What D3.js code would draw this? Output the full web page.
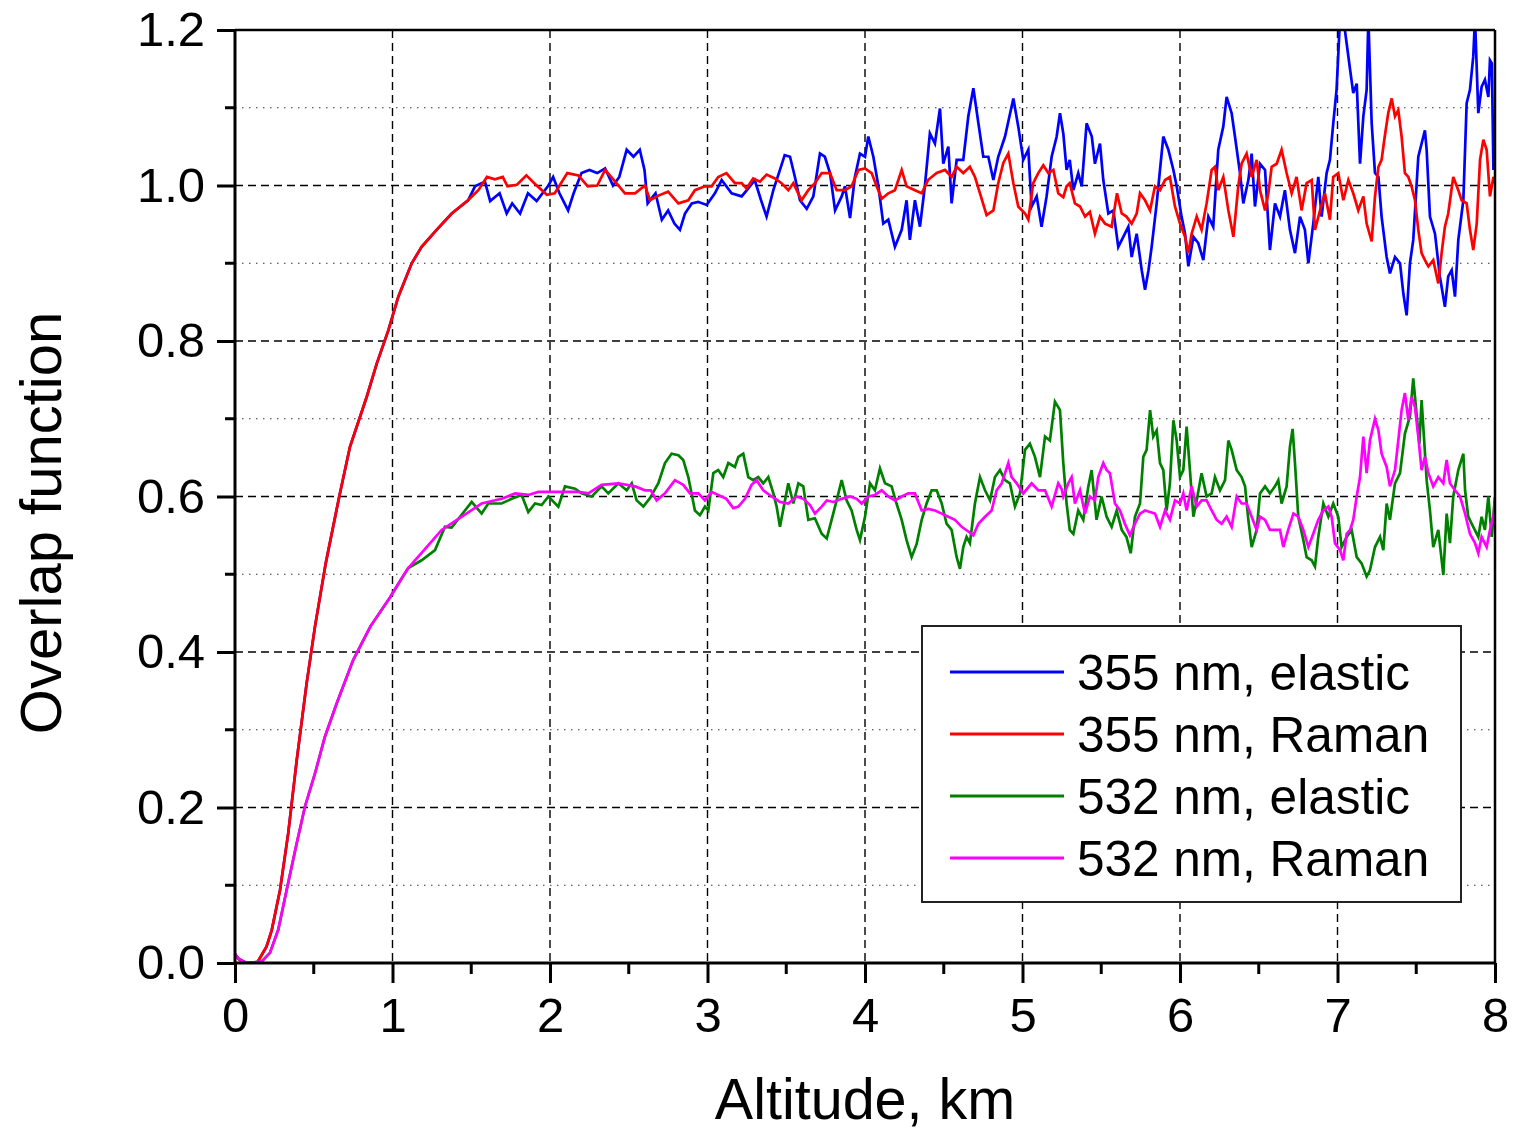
<!DOCTYPE html>
<html>
<head>
<meta charset="utf-8">
<script src="https://cdn.jsdelivr.net/npm/d3@7"></script>
<style>
  html, body { margin: 0; padding: 0; background: #fff; }
  text { font-family: "Liberation Sans", Arial, sans-serif; fill: #000; }
</style>
</head>
<body>
<svg id="chart" width="1515" height="1133"></svg>
<script>
// Altitude (km) / overlap-function pairs.
// Both 355 nm channels share the near-range rise, as do both 532 nm channels.
const rise355 = [
  [0.00, 0.010], [0.03, 0.004], [0.07, 0.000], [0.14, 0.000], [0.20, 0.021], [0.233, 0.042],
  [0.286, 0.094], [0.338, 0.167], [0.392, 0.261], [0.455, 0.360], [0.508, 0.433],
  [0.576, 0.514], [0.662, 0.600], [0.73, 0.664], [0.836, 0.728], [0.90, 0.771],
  [0.974, 0.814], [1.037, 0.857], [1.122, 0.900], [1.185, 0.921], [1.28, 0.943],
  [1.376, 0.964], [1.48, 0.981]
];
const elastic355Tail = [
  [1.524, 0.999], [1.587, 1.005], [1.62, 0.980], [1.68, 0.990], [1.725, 0.964], [1.76, 0.977],
  [1.81, 0.964], [1.86, 0.990], [1.915, 0.980], [1.99, 1.000], [2.02, 1.011], [2.06, 0.990],
  [2.115, 0.968], [2.15, 0.990], [2.20, 1.016], [2.25, 1.020], [2.30, 1.016], [2.35, 1.022],
  [2.40, 1.000], [2.44, 1.011], [2.487, 1.046], [2.53, 1.037], [2.57, 1.046], [2.60, 1.020],
  [2.62, 0.977], [2.67, 0.990], [2.71, 0.956], [2.75, 0.968], [2.79, 0.951], [2.825, 0.943],
  [2.857, 0.964], [2.90, 0.977], [2.94, 0.979], [2.995, 0.975], [3.047, 0.990], [3.09, 1.007],
  [3.153, 0.990], [3.217, 0.986], [3.25, 0.994], [3.30, 1.007], [3.34, 0.981], [3.375, 0.960],
  [3.418, 0.994], [3.46, 1.020], [3.49, 1.039], [3.524, 1.037], [3.555, 1.011], [3.587, 0.981],
  [3.63, 0.970], [3.672, 0.986], [3.714, 1.041], [3.745, 1.037], [3.778, 1.016], [3.81, 0.968],
  [3.852, 0.986], [3.873, 0.999], [3.905, 0.958], [3.936, 1.011], [3.968, 1.041], [4.00, 1.037],
  [4.021, 1.063], [4.053, 1.037], [4.085, 0.999], [4.116, 0.951], [4.148, 0.956], [4.19, 0.921],
  [4.233, 0.943], [4.264, 0.981], [4.285, 0.930], [4.317, 0.981], [4.349, 0.947], [4.38, 0.999],
  [4.412, 1.067], [4.444, 1.054], [4.476, 1.099], [4.497, 1.028], [4.529, 1.050], [4.55, 0.977],
  [4.582, 1.033], [4.624, 1.033], [4.656, 1.089], [4.688, 1.125], [4.72, 1.080], [4.751, 1.037],
  [4.783, 1.037], [4.815, 1.007], [4.846, 1.037], [4.889, 1.063], [4.942, 1.112], [4.973, 1.076],
  [5.005, 1.033], [5.037, 1.046], [5.058, 0.973], [5.09, 0.986], [5.121, 0.947], [5.153, 0.986],
  [5.185, 1.037], [5.217, 1.063], [5.238, 1.093], [5.259, 1.067], [5.28, 1.020], [5.30, 1.033],
  [5.323, 0.994], [5.354, 1.016], [5.376, 0.999], [5.407, 1.080], [5.44, 1.063], [5.46, 1.028],
  [5.492, 1.054], [5.513, 1.007], [5.545, 0.964], [5.577, 0.968], [5.608, 0.921], [5.64, 0.934],
  [5.672, 0.947], [5.693, 0.908], [5.725, 0.938], [5.757, 0.891], [5.778, 0.866], [5.80, 0.891],
  [5.82, 0.921], [5.852, 0.977], [5.873, 1.020], [5.894, 1.063], [5.926, 1.046], [5.958, 1.020],
  [5.979, 0.999], [6.01, 0.960], [6.032, 0.938], [6.053, 0.896], [6.085, 0.934], [6.116, 0.926],
  [6.148, 0.904], [6.18, 0.960], [6.211, 0.947], [6.243, 1.046], [6.275, 1.076], [6.296, 1.114],
  [6.328, 1.093], [6.349, 1.063], [6.381, 1.016], [6.402, 0.977], [6.434, 1.007], [6.455, 1.041],
  [6.476, 0.973], [6.508, 1.028], [6.54, 1.020], [6.571, 0.917], [6.603, 0.977], [6.635, 0.960],
  [6.666, 0.994], [6.698, 0.943], [6.73, 0.913], [6.762, 0.960], [6.793, 0.943], [6.815, 0.900],
  [6.846, 0.951], [6.878, 1.011], [6.899, 0.960], [6.931, 1.016], [6.952, 1.033], [6.973, 1.080],
  [6.994, 1.123], [7.016, 1.215], [7.037, 1.215], [7.058, 1.183], [7.08, 1.149], [7.10, 1.119],
  [7.122, 1.131], [7.143, 1.028], [7.164, 1.089], [7.185, 1.123], [7.196, 1.215], [7.217, 1.080],
  [7.238, 1.016], [7.26, 1.011], [7.28, 0.960], [7.312, 0.908], [7.333, 0.887], [7.365, 0.908],
  [7.397, 0.900], [7.418, 0.861], [7.439, 0.833], [7.46, 0.900], [7.481, 0.930], [7.513, 1.037],
  [7.534, 1.054], [7.555, 1.071], [7.566, 1.046], [7.587, 0.960], [7.619, 0.938], [7.65, 0.883],
  [7.682, 0.844], [7.703, 0.883], [7.725, 0.891], [7.746, 0.857], [7.767, 0.930], [7.799, 0.981],
  [7.82, 1.106], [7.841, 1.123], [7.862, 1.166], [7.873, 1.215], [7.894, 1.093], [7.915, 1.127],
  [7.936, 1.136], [7.958, 1.114], [7.968, 1.161], [7.98, 1.157], [7.99, 1.020], [8.00, 1.084]
];
const raman355Tail = [
  [1.545, 0.994], [1.60, 1.011], [1.65, 1.008], [1.70, 1.011], [1.73, 0.999], [1.79, 1.001],
  [1.85, 1.013], [1.905, 1.002], [1.98, 0.988], [2.03, 0.990], [2.11, 1.016], [2.18, 1.013],
  [2.24, 0.999], [2.30, 1.000], [2.35, 1.020], [2.41, 1.006], [2.476, 0.990], [2.54, 0.990],
  [2.603, 1.000], [2.635, 0.981], [2.688, 0.987], [2.75, 0.992], [2.815, 0.977], [2.878, 0.981],
  [2.92, 0.994], [2.984, 0.999], [3.026, 0.999], [3.068, 1.011], [3.12, 1.016], [3.174, 1.003],
  [3.217, 1.003], [3.248, 0.996], [3.29, 1.009], [3.333, 1.005], [3.375, 1.014], [3.428, 1.009],
  [3.47, 1.003], [3.513, 0.994], [3.545, 1.003], [3.597, 0.981], [3.64, 0.994], [3.682, 1.003],
  [3.725, 1.016], [3.778, 1.016], [3.82, 0.994], [3.873, 0.994], [3.915, 0.999], [3.958, 1.020],
  [4.00, 1.022], [4.042, 1.016], [4.074, 0.999], [4.106, 0.983], [4.148, 0.990], [4.19, 0.994],
  [4.233, 1.020], [4.264, 0.999], [4.317, 0.994], [4.36, 0.990], [4.40, 1.007], [4.455, 1.016],
  [4.508, 1.020], [4.55, 1.011], [4.582, 1.024], [4.624, 1.016], [4.666, 1.024], [4.698, 1.011],
  [4.73, 0.990], [4.772, 0.962], [4.815, 0.968], [4.846, 1.003], [4.878, 1.029], [4.91, 1.041],
  [4.942, 1.003], [4.973, 0.973], [5.016, 0.964], [5.037, 0.956], [5.068, 1.003], [5.10, 1.016],
  [5.132, 1.026], [5.164, 1.016], [5.196, 1.020], [5.227, 0.990], [5.259, 0.985], [5.28, 0.999],
  [5.30, 1.003], [5.333, 0.977], [5.365, 0.973], [5.397, 0.960], [5.428, 0.966], [5.46, 0.938],
  [5.492, 0.960], [5.524, 0.951], [5.566, 0.947], [5.60, 0.990], [5.63, 0.964], [5.66, 0.960],
  [5.693, 0.951], [5.725, 0.964], [5.746, 0.990], [5.778, 0.981], [5.81, 0.968], [5.841, 0.999],
  [5.873, 0.994], [5.905, 1.007], [5.936, 1.011], [5.968, 0.973], [6.00, 0.951], [6.032, 0.934],
  [6.053, 0.913], [6.074, 0.938], [6.106, 0.960], [6.137, 0.943], [6.169, 0.977], [6.201, 1.020],
  [6.222, 1.024], [6.243, 0.994], [6.275, 1.011], [6.307, 0.968], [6.339, 0.934], [6.37, 0.999],
  [6.391, 1.028], [6.423, 1.041], [6.455, 1.011], [6.487, 1.033], [6.508, 0.994], [6.54, 0.968],
  [6.561, 0.990], [6.582, 1.024], [6.614, 1.028], [6.645, 1.046], [6.677, 1.016], [6.709, 0.990],
  [6.74, 1.011], [6.772, 0.968], [6.804, 1.003], [6.836, 1.007], [6.857, 0.943], [6.889, 0.968],
  [6.92, 0.990], [6.952, 0.956], [6.973, 1.011], [7.005, 1.016], [7.037, 0.981], [7.069, 1.007],
  [7.10, 0.990], [7.132, 0.968], [7.164, 0.986], [7.185, 0.951], [7.217, 0.928], [7.238, 0.986],
  [7.26, 1.024], [7.28, 1.033], [7.30, 1.063], [7.322, 1.093], [7.344, 1.112], [7.365, 1.089],
  [7.386, 1.097], [7.407, 1.063], [7.428, 1.016], [7.45, 1.011], [7.47, 0.999], [7.492, 0.981],
  [7.513, 0.943], [7.534, 0.913], [7.555, 0.904], [7.577, 0.896], [7.608, 0.904], [7.64, 0.874],
  [7.661, 0.913], [7.682, 0.947], [7.703, 0.964], [7.735, 1.011], [7.767, 0.994], [7.788, 0.981],
  [7.82, 0.977], [7.841, 0.943], [7.862, 0.917], [7.884, 0.951], [7.905, 1.033], [7.926, 1.059],
  [7.947, 1.046], [7.968, 0.986], [7.99, 1.011], [8.00, 1.003]
];
const rise532 = [
  [0.00, 0.012], [0.02, 0.006], [0.074, 0.000], [0.17, 0.002], [0.222, 0.013], [0.275, 0.043],
  [0.328, 0.094], [0.392, 0.154], [0.444, 0.201], [0.508, 0.244], [0.571, 0.291],
  [0.646, 0.334], [0.751, 0.390], [0.86, 0.433], [0.984, 0.470], [1.05, 0.492], [1.10, 0.508]
];
const elastic532Tail = [
  [1.185, 0.518], [1.27, 0.531], [1.333, 0.561], [1.375, 0.560], [1.46, 0.582], [1.503, 0.593],
  [1.566, 0.578], [1.608, 0.591], [1.693, 0.591], [1.757, 0.597], [1.82, 0.602], [1.862, 0.580],
  [1.905, 0.591], [1.947, 0.589], [1.99, 0.600], [2.053, 0.587], [2.095, 0.613], [2.159, 0.610],
  [2.20, 0.604], [2.265, 0.600], [2.328, 0.613], [2.37, 0.604], [2.434, 0.617], [2.487, 0.608],
  [2.519, 0.617], [2.55, 0.595], [2.593, 0.587], [2.635, 0.598], [2.688, 0.617], [2.73, 0.643],
  [2.772, 0.655], [2.815, 0.653], [2.846, 0.647], [2.878, 0.625], [2.92, 0.582], [2.952, 0.576],
  [2.984, 0.587], [3.005, 0.582], [3.037, 0.630], [3.068, 0.634], [3.10, 0.625], [3.132, 0.643],
  [3.174, 0.638], [3.196, 0.651], [3.227, 0.655], [3.259, 0.625], [3.29, 0.621], [3.322, 0.625],
  [3.354, 0.617], [3.386, 0.625], [3.418, 0.604], [3.439, 0.587], [3.46, 0.561], [3.492, 0.595],
  [3.513, 0.617], [3.545, 0.591], [3.577, 0.617], [3.608, 0.613], [3.64, 0.570], [3.682, 0.572],
  [3.725, 0.552], [3.757, 0.546], [3.788, 0.570], [3.82, 0.595], [3.852, 0.621], [3.883, 0.595],
  [3.915, 0.582], [3.947, 0.557], [3.968, 0.544], [4.00, 0.574], [4.032, 0.617], [4.063, 0.608],
  [4.095, 0.636], [4.127, 0.617], [4.169, 0.613], [4.20, 0.591], [4.233, 0.570], [4.264, 0.544],
  [4.296, 0.522], [4.328, 0.539], [4.36, 0.570], [4.391, 0.591], [4.423, 0.608], [4.455, 0.608],
  [4.487, 0.591], [4.518, 0.565], [4.55, 0.557], [4.582, 0.522], [4.603, 0.507], [4.624, 0.535],
  [4.645, 0.548], [4.666, 0.540], [4.698, 0.591], [4.73, 0.625], [4.762, 0.608], [4.794, 0.595],
  [4.825, 0.625], [4.857, 0.634], [4.889, 0.621], [4.92, 0.617], [4.952, 0.587], [4.984, 0.604],
  [5.016, 0.660], [5.047, 0.668], [5.079, 0.651], [5.111, 0.625], [5.143, 0.677], [5.174, 0.672],
  [5.206, 0.722], [5.227, 0.715], [5.238, 0.711], [5.259, 0.643], [5.28, 0.591], [5.30, 0.557],
  [5.323, 0.552], [5.354, 0.582], [5.386, 0.570], [5.418, 0.613], [5.439, 0.634], [5.47, 0.570],
  [5.502, 0.600], [5.534, 0.574], [5.566, 0.561], [5.598, 0.582], [5.63, 0.557], [5.66, 0.548],
  [5.687, 0.527], [5.714, 0.574], [5.746, 0.591], [5.767, 0.651], [5.788, 0.660], [5.81, 0.711],
  [5.83, 0.677], [5.852, 0.685], [5.873, 0.643], [5.894, 0.634], [5.915, 0.582], [5.936, 0.617],
  [5.958, 0.698], [5.979, 0.672], [6.00, 0.625], [6.021, 0.634], [6.042, 0.690], [6.063, 0.634],
  [6.085, 0.574], [6.106, 0.595], [6.137, 0.630], [6.169, 0.600], [6.201, 0.604], [6.222, 0.625],
  [6.254, 0.608], [6.286, 0.621], [6.307, 0.672], [6.328, 0.660], [6.36, 0.634], [6.391, 0.625],
  [6.413, 0.613], [6.434, 0.570], [6.455, 0.535], [6.487, 0.557], [6.508, 0.604], [6.54, 0.613],
  [6.571, 0.604], [6.603, 0.613], [6.624, 0.621], [6.645, 0.591], [6.677, 0.613], [6.698, 0.664],
  [6.715, 0.687], [6.73, 0.643], [6.751, 0.574], [6.783, 0.544], [6.804, 0.522], [6.836, 0.518],
  [6.857, 0.510], [6.878, 0.548], [6.91, 0.591], [6.942, 0.574], [6.973, 0.591], [7.005, 0.574],
  [7.026, 0.535], [7.058, 0.548], [7.09, 0.557], [7.122, 0.522], [7.153, 0.514], [7.185, 0.497],
  [7.206, 0.505], [7.238, 0.535], [7.27, 0.548], [7.291, 0.531], [7.312, 0.591], [7.333, 0.570],
  [7.365, 0.617], [7.397, 0.630], [7.428, 0.681], [7.46, 0.703], [7.481, 0.752], [7.498, 0.715],
  [7.52, 0.668], [7.534, 0.724], [7.55, 0.673], [7.566, 0.621], [7.587, 0.582], [7.608, 0.535],
  [7.64, 0.557], [7.672, 0.499], [7.693, 0.578], [7.714, 0.540], [7.735, 0.600], [7.767, 0.634],
  [7.799, 0.655], [7.81, 0.608], [7.83, 0.574], [7.862, 0.561], [7.894, 0.548], [7.915, 0.574],
  [7.936, 0.557], [7.958, 0.600], [7.979, 0.548], [8.00, 0.600]
];
const raman532Tail = [
  [1.217, 0.535], [1.312, 0.557], [1.44, 0.574], [1.566, 0.591], [1.693, 0.597], [1.778, 0.604],
  [1.862, 0.602], [1.926, 0.606], [2.01, 0.606], [2.095, 0.606], [2.18, 0.606], [2.243, 0.604],
  [2.328, 0.615], [2.434, 0.617], [2.54, 0.613], [2.603, 0.608], [2.64, 0.608], [2.677, 0.595],
  [2.73, 0.604], [2.793, 0.621], [2.846, 0.615], [2.889, 0.604], [2.942, 0.604], [2.984, 0.595],
  [3.026, 0.606], [3.068, 0.602], [3.12, 0.597], [3.164, 0.585], [3.196, 0.587], [3.238, 0.597],
  [3.28, 0.615], [3.312, 0.621], [3.354, 0.608], [3.407, 0.600], [3.46, 0.593], [3.513, 0.591],
  [3.566, 0.600], [3.608, 0.597], [3.651, 0.589], [3.682, 0.578], [3.725, 0.587], [3.757, 0.595],
  [3.799, 0.593], [3.852, 0.597], [3.905, 0.600], [3.947, 0.597], [3.979, 0.591], [4.021, 0.600],
  [4.063, 0.602], [4.106, 0.608], [4.148, 0.600], [4.19, 0.595], [4.233, 0.600], [4.275, 0.604],
  [4.317, 0.604], [4.36, 0.582], [4.402, 0.584], [4.444, 0.582], [4.487, 0.578], [4.529, 0.574],
  [4.571, 0.570], [4.614, 0.561], [4.656, 0.555], [4.688, 0.550], [4.72, 0.565], [4.762, 0.574],
  [4.804, 0.582], [4.836, 0.608], [4.868, 0.617], [4.889, 0.630], [4.91, 0.643], [4.931, 0.625],
  [4.963, 0.617], [5.005, 0.604], [5.058, 0.617], [5.10, 0.608], [5.143, 0.608], [5.185, 0.587],
  [5.227, 0.617], [5.248, 0.610], [5.259, 0.600], [5.291, 0.617], [5.312, 0.625], [5.333, 0.591],
  [5.365, 0.608], [5.397, 0.578], [5.428, 0.600], [5.46, 0.595], [5.481, 0.625], [5.513, 0.643],
  [5.534, 0.634], [5.555, 0.630], [5.587, 0.591], [5.619, 0.582], [5.65, 0.565], [5.682, 0.550],
  [5.714, 0.565], [5.746, 0.578], [5.778, 0.582], [5.81, 0.580], [5.841, 0.578], [5.873, 0.561],
  [5.905, 0.582], [5.936, 0.570], [5.968, 0.595], [6.00, 0.591], [6.021, 0.604], [6.042, 0.582],
  [6.074, 0.613], [6.106, 0.587], [6.137, 0.595], [6.169, 0.595], [6.201, 0.582], [6.233, 0.570],
  [6.264, 0.565], [6.296, 0.574], [6.328, 0.561], [6.36, 0.600], [6.391, 0.591], [6.423, 0.591],
  [6.455, 0.574], [6.487, 0.557], [6.508, 0.574], [6.54, 0.570], [6.571, 0.557], [6.603, 0.557],
  [6.635, 0.557], [6.656, 0.535], [6.687, 0.557], [6.72, 0.578], [6.751, 0.574], [6.783, 0.557],
  [6.815, 0.535], [6.846, 0.552], [6.878, 0.570], [6.91, 0.582], [6.942, 0.587], [6.963, 0.574],
  [6.984, 0.540], [7.016, 0.531], [7.037, 0.518], [7.058, 0.552], [7.08, 0.557], [7.10, 0.570],
  [7.122, 0.600], [7.143, 0.625], [7.164, 0.677], [7.185, 0.630], [7.206, 0.672], [7.238, 0.700],
  [7.26, 0.685], [7.28, 0.655], [7.312, 0.638], [7.333, 0.613], [7.365, 0.634], [7.386, 0.672],
  [7.407, 0.711], [7.428, 0.733], [7.45, 0.698], [7.47, 0.728], [7.492, 0.715], [7.513, 0.677],
  [7.534, 0.634], [7.555, 0.651], [7.577, 0.630], [7.608, 0.613], [7.64, 0.625], [7.672, 0.617],
  [7.693, 0.647], [7.714, 0.617], [7.746, 0.608], [7.778, 0.600], [7.81, 0.578], [7.841, 0.552],
  [7.873, 0.540], [7.894, 0.527], [7.915, 0.548], [7.947, 0.535], [7.968, 0.557], [7.99, 0.574],
  [8.00, 0.595]
];

const seriesNames = ["355 nm, elastic", "355 nm, Raman", "532 nm, elastic", "532 nm, Raman"];
const seriesColors = ["#0000ff", "#ff0000", "#008000", "#ff00ff"];
const seriesData = [
  rise355.concat(elastic355Tail),
  rise355.concat(raman355Tail),
  rise532.concat(elastic532Tail),
  rise532.concat(raman532Tail)
];

const xMajorTicks = [0, 1, 2, 3, 4, 5, 6, 7, 8];
const xMinorTicks = [0.5, 1.5, 2.5, 3.5, 4.5, 5.5, 6.5, 7.5];
const yMajorTicks = [0, 0.2, 0.4, 0.6, 0.8, 1.0, 1.2];
const yMinorTicks = [0.1, 0.3, 0.5, 0.7, 0.9, 1.1];

const xTitle = "Altitude, km";
const yTitle = "Overlap function";

// ---- layout ----
const svg = d3.select("#chart");
const plotL = 235, plotR = 1495, plotT = 30, plotB = 963;

const x = d3.scaleLinear().domain([0, 8]).range([plotL, plotR]);
const y = d3.scaleLinear().domain([0, 1.2]).range([plotB, plotT]);

// grid: dotted minor horizontals, dashed majors
const grid = svg.append("g");
grid.selectAll(".ymin").data(yMinorTicks).join("line")
  .attr("x1", plotL).attr("x2", plotR)
  .attr("y1", d => y(d)).attr("y2", d => y(d))
  .attr("stroke", "#333").attr("stroke-width", 1).attr("stroke-dasharray", "1.5,5.5");
grid.selectAll(".ymaj").data(yMajorTicks.filter(d => d > 0 && d < 1.2)).join("line")
  .attr("x1", plotL).attr("x2", plotR)
  .attr("y1", d => y(d)).attr("y2", d => y(d))
  .attr("stroke", "#000").attr("stroke-width", 1.4).attr("stroke-dasharray", "8,5");
grid.selectAll(".xmaj").data(xMajorTicks.filter(d => d > 0 && d < 8)).join("line")
  .attr("y1", plotT).attr("y2", plotB)
  .attr("x1", d => x(d)).attr("x2", d => x(d))
  .attr("stroke", "#000").attr("stroke-width", 1.4).attr("stroke-dasharray", "8,5");

// data lines, clipped to the plotting frame
svg.append("clipPath").attr("id", "plotClip")
  .append("rect").attr("x", plotL).attr("y", plotT)
  .attr("width", plotR - plotL).attr("height", plotB - plotT);

const line = d3.line().x(d => x(d[0])).y(d => y(d[1]));
const lines = svg.append("g").attr("clip-path", "url(#plotClip)");
seriesData.forEach((data, i) => {
  lines.append("path")
    .datum(data)
    .attr("d", line)
    .attr("fill", "none")
    .attr("stroke", seriesColors[i])
    .attr("stroke-width", 2.7)
    .attr("stroke-linejoin", "miter");
});

// frame
svg.append("line").attr("x1", plotL).attr("x2", plotR).attr("y1", plotT).attr("y2", plotT)
  .attr("stroke", "#000").attr("stroke-width", 2.5);
svg.append("line").attr("x1", plotR).attr("x2", plotR).attr("y1", plotT).attr("y2", plotB)
  .attr("stroke", "#000").attr("stroke-width", 2.5);

// axes
const xAxis = d3.axisBottom(x).tickValues(xMajorTicks).tickSize(20).tickPadding(14).tickFormat(d3.format("d"));
const gx = svg.append("g").attr("transform", `translate(0,${plotB})`).call(xAxis);
gx.selectAll(".minor").data(xMinorTicks).join("line").attr("class", "minor")
  .attr("x1", d => x(d)).attr("x2", d => x(d)).attr("y1", 0).attr("y2", 11)
  .attr("stroke", "#000").attr("stroke-width", 3);

const yAxis = d3.axisLeft(y).tickValues(yMajorTicks).tickSize(18).tickPadding(12).tickFormat(d3.format(".1f"));
const gy = svg.append("g").attr("transform", `translate(${plotL},0)`).call(yAxis);
gy.selectAll(".minor").data(yMinorTicks).join("line").attr("class", "minor")
  .attr("y1", d => y(d)).attr("y2", d => y(d)).attr("x1", 0).attr("x2", -10)
  .attr("stroke", "#000").attr("stroke-width", 3);

[gx, gy].forEach(g => {
  g.select(".domain").attr("stroke", "#000").attr("stroke-width", 3);
  g.selectAll(".tick line").attr("stroke", "#000").attr("stroke-width", 3);
  g.selectAll(".tick text").attr("font-family", "Liberation Sans, Arial, sans-serif")
    .attr("font-size", 49).attr("fill", "#000");
});
gx.select(".domain").attr("d", `M${plotL},0H${plotR}`);
gy.select(".domain").attr("d", `M0,${plotB}V${plotT}`);

// axis titles
svg.append("text").attr("x", x(4)).attr("y", 1119)
  .attr("text-anchor", "middle").attr("font-size", 57.5).text(xTitle);
svg.append("text").attr("transform", `translate(61,523) rotate(-90)`)
  .attr("text-anchor", "middle").attr("font-size", 58).text(yTitle);

// legend
const legend = svg.append("g");
legend.append("rect").attr("x", 922).attr("y", 626).attr("width", 539).attr("height", 276)
  .attr("fill", "#fff").attr("stroke", "#222").attr("stroke-width", 2);
seriesNames.forEach((name, i) => {
  const cy = 672 + i * 62;
  legend.append("line").attr("x1", 950).attr("x2", 1064).attr("y1", cy).attr("y2", cy)
    .attr("stroke", seriesColors[i]).attr("stroke-width", 3);
  legend.append("text").attr("x", 1077).attr("y", cy + 18)
    .attr("font-size", 49.5).text(name);
});
</script>
</body>
</html>
